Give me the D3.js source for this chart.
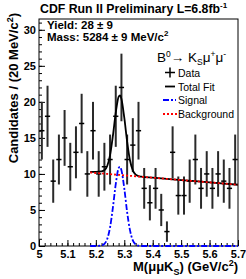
<!DOCTYPE html>
<html>
<head>
<meta charset="utf-8">
<script src="https://cdn.jsdelivr.net/npm/d3@7/dist/d3.min.js"></script>
<style>
  body { margin: 0; background: #fff; }
  text { font-family: "Liberation Sans", Arial, sans-serif; }
</style>
</head>
<body>
<div id="chart"></div>
<script>
// histogram: bin centres (GeV/c^2) and candidates per 20 MeV
const binCenters = [5.01, 5.03, 5.05, 5.07, 5.09, 5.11, 5.13, 5.15, 5.17, 5.19,
  5.21, 5.23, 5.25, 5.27, 5.29, 5.31, 5.33, 5.35, 5.37, 5.39,
  5.41, 5.43, 5.45, 5.47, 5.49, 5.51, 5.53, 5.55, 5.57, 5.59,
  5.61, 5.63, 5.65, 5.67, 5.69];
const counts = [16, 18, 9, 12, 15, 11, 13, 17, 10, 16,
  10, 11, 12, 18, 22, 12, 14, 16, 8, 6,
  8, 5, 2, 13, 7, 7, 9, 12, 8, 10,
  8, 10, 9, 8, 12];

// fit curves
const fitX = [5.18, 5.20, 5.22, 5.23, 5.24, 5.25, 5.26, 5.27, 5.28, 5.285, 5.29,
  5.30, 5.31, 5.32, 5.33, 5.34, 5.35, 5.36, 5.40, 5.50, 5.60, 5.70];
const totalFit = [10.3, 10.3, 10.35, 10.5, 11.1, 12.6, 15.3, 18.5, 20.7, 20.9, 20.4,
  17.8, 14.5, 11.9, 10.5, 9.9, 9.7, 9.62, 9.48, 9.15, 8.83, 8.5];
const signal = [0, 0, 0.07, 0.29, 0.98, 2.6, 5.35, 8.6, 10.8, 11.0, 10.5,
  8.0, 4.7, 2.2, 0.78, 0.22, 0.05, 0, 0, 0, 0, 0];
const background = [10.2, 10.13, 10.07, 10.04, 10.0, 9.97, 9.94, 9.9, 9.87, 9.86, 9.84,
  9.81, 9.77, 9.74, 9.71, 9.68, 9.64, 9.61, 9.48, 9.15, 8.83, 8.5];

const xTicks = [5, 5.1, 5.2, 5.3, 5.4, 5.5, 5.6, 5.7];
const yTicks = [0, 5, 10, 15, 20, 25, 30];

const width = 246, height = 279;
const frameL = 39, frameR = 238, frameT = 19, frameB = 246;

const svg = d3.select('#chart').append('svg')
  .attr('width', width)
  .attr('height', height);

const x = d3.scaleLinear().domain([5, 5.7]).range([frameL, frameR]);
const y = d3.scaleLinear().domain([0, 31.5]).range([frameB, frameT]);

// frame
svg.append('rect')
  .attr('x', frameL).attr('y', frameT)
  .attr('width', frameR - frameL).attr('height', frameB - frameT)
  .attr('fill', 'none').attr('stroke', '#000').attr('stroke-width', 1);

// minor ticks
svg.append('g')
  .attr('transform', `translate(0,${frameB})`)
  .call(d3.axisBottom(x).tickValues(d3.range(5, 5.7001, 0.02)).tickSize(-3).tickFormat(''))
  .call(g => g.select('.domain').remove());
svg.append('g')
  .attr('transform', `translate(${frameL},0)`)
  .call(d3.axisLeft(y).tickValues(d3.range(0, 31.5, 1)).tickSize(-3).tickFormat(''))
  .call(g => g.select('.domain').remove());

// major ticks + labels
const xAxis = svg.append('g')
  .attr('transform', `translate(0,${frameB})`)
  .call(d3.axisBottom(x).tickValues(xTicks).tickSize(-6).tickPadding(4).tickFormat(d3.format('')))
  .call(g => g.select('.domain').remove());
xAxis.selectAll('text')
  .attr('font-family', '"Liberation Sans", Arial, sans-serif')
  .attr('font-size', 11).attr('font-weight', 'bold').attr('fill', '#000');

const yAxis = svg.append('g')
  .attr('transform', `translate(${frameL},0)`)
  .call(d3.axisLeft(y).tickValues(yTicks).tickSize(-6).tickPadding(3))
  .call(g => g.select('.domain').remove());
yAxis.selectAll('text')
  .attr('font-family', '"Liberation Sans", Arial, sans-serif')
  .attr('font-size', 11).attr('font-weight', 'bold').attr('fill', '#000');

svg.selectAll('.tick line').attr('stroke', '#000');

// data points with sqrt(N) error bars
const pts = svg.append('g');
pts.selectAll('line.err')
  .data(counts)
  .enter().append('line')
  .attr('class', 'err')
  .attr('x1', (d, i) => x(binCenters[i]))
  .attr('x2', (d, i) => x(binCenters[i]))
  .attr('y1', d => y(Math.max(0, d - Math.sqrt(d))))
  .attr('y2', d => y(d + Math.sqrt(d)))
  .attr('stroke', '#2a2a2a')
  .attr('stroke-width', 2);
pts.selectAll('line.hbar')
  .data(counts)
  .enter().append('line')
  .attr('class', 'hbar')
  .attr('x1', (d, i) => x(binCenters[i]) - 2.6)
  .attr('x2', (d, i) => x(binCenters[i]) + 2.6)
  .attr('y1', d => y(d))
  .attr('y2', d => y(d))
  .attr('stroke', '#000')
  .attr('stroke-width', 1.5);

// fit curves
const curveLine = vals => d3.line()
  .x((d, i) => x(fitX[i]))
  .y(d => y(d))
  .curve(d3.curveMonotoneX)(vals);

svg.append('path')
  .attr('d', curveLine(signal))
  .attr('fill', 'none').attr('stroke', '#0000ff').attr('stroke-width', 1.8)
  .attr('stroke-dasharray', '6,2,2,2');
svg.append('path')
  .attr('d', curveLine(totalFit))
  .attr('fill', 'none').attr('stroke', '#000').attr('stroke-width', 1.8);
svg.append('path')
  .attr('d', curveLine(background))
  .attr('fill', 'none').attr('stroke', '#ff0000').attr('stroke-width', 1.8)
  .attr('stroke-dasharray', '2,2');

// title
const title = svg.append('text')
  .attr('x', 40).attr('y', 12.5)
  .attr('font-size', 12.3).attr('font-weight', 'bold');
title.append('tspan').text('CDF Run II Preliminary L=6.8fb');
title.append('tspan').attr('font-size', 8).attr('dy', -5).text('-1');

// yield and mass
svg.append('text')
  .attr('x', 47).attr('y', 28.5)
  .attr('font-size', 11.5).attr('font-weight', 'bold')
  .text('Yield: 28 \u00b1 9');
const mass = svg.append('text')
  .attr('x', 47).attr('y', 41)
  .attr('font-size', 11.5).attr('font-weight', 'bold');
mass.append('tspan').text('Mass: 5284 \u00b1 9 MeV/c');
mass.append('tspan').attr('font-size', 8).attr('dy', -5).text('2');

// legend
const lg = svg.append('g');
const head = lg.append('text').attr('x', 157).attr('y', 62).attr('font-size', 13.5);
head.append('tspan').text('B');
head.append('tspan').attr('font-size', 8.5).attr('dy', -5.5).text('0');
head.append('tspan').attr('dy', 5.5).text('\u2192 K');
head.append('tspan').attr('font-size', 8.5).attr('dy', 2.5).text('S');
head.append('tspan').attr('dy', -2.5).text('\u03bc');
head.append('tspan').attr('font-size', 8.5).attr('dy', -5.5).text('+');
head.append('tspan').attr('dy', 5.5).text('\u03bc');
head.append('tspan').attr('font-size', 8.5).attr('dy', -5.5).text('-');

const legendNames = ['Data', 'Total Fit', 'Signal', 'Background'];
const legendY = [72.5, 86.5, 100, 114];
legendNames.forEach((name, i) => {
  const yy = legendY[i];
  if (i === 0) {
    lg.append('line').attr('x1', 165).attr('x2', 175).attr('y1', yy).attr('y2', yy)
      .attr('stroke', '#000').attr('stroke-width', 1.5);
    lg.append('line').attr('x1', 170).attr('x2', 170).attr('y1', yy - 5).attr('y2', yy + 5)
      .attr('stroke', '#000').attr('stroke-width', 1.5);
  } else if (i === 1) {
    lg.append('line').attr('x1', 165).attr('x2', 175).attr('y1', yy).attr('y2', yy)
      .attr('stroke', '#000').attr('stroke-width', 1.8);
  } else if (i === 2) {
    lg.append('line').attr('x1', 163).attr('x2', 176).attr('y1', yy).attr('y2', yy)
      .attr('stroke', '#0000ff').attr('stroke-width', 1.8).attr('stroke-dasharray', '6,2,2,2');
  } else {
    lg.append('line').attr('x1', 163).attr('x2', 177).attr('y1', yy).attr('y2', yy)
      .attr('stroke', '#ff0000').attr('stroke-width', 1.8).attr('stroke-dasharray', '2,2');
  }
  lg.append('text').attr('x', 178).attr('y', yy + 4)
    .attr('font-size', 10.5).text(name);
});

// axis titles
const xt = svg.append('text')
  .attr('x', 238).attr('y', 271)
  .attr('text-anchor', 'end')
  .attr('font-size', 13).attr('font-weight', 'bold');
xt.append('tspan').text('M(\u03bc\u03bcK');
xt.append('tspan').attr('font-size', 9).attr('dy', 4).text('S');
xt.append('tspan').attr('dy', -4).text(') (GeV/c');
xt.append('tspan').attr('font-size', 9).attr('dy', -5).text('2');
xt.append('tspan').attr('dy', 5).text(')');

const yt = svg.append('text')
  .attr('transform', 'translate(18,13) rotate(-90)')
  .attr('text-anchor', 'end')
  .attr('font-size', 13).attr('font-weight', 'bold');
yt.append('tspan').text('Candidates / (20 MeV/c');
yt.append('tspan').attr('font-size', 9).attr('dy', -5).text('2');
yt.append('tspan').attr('dy', 5).text(')');
</script>
</body>
</html>
